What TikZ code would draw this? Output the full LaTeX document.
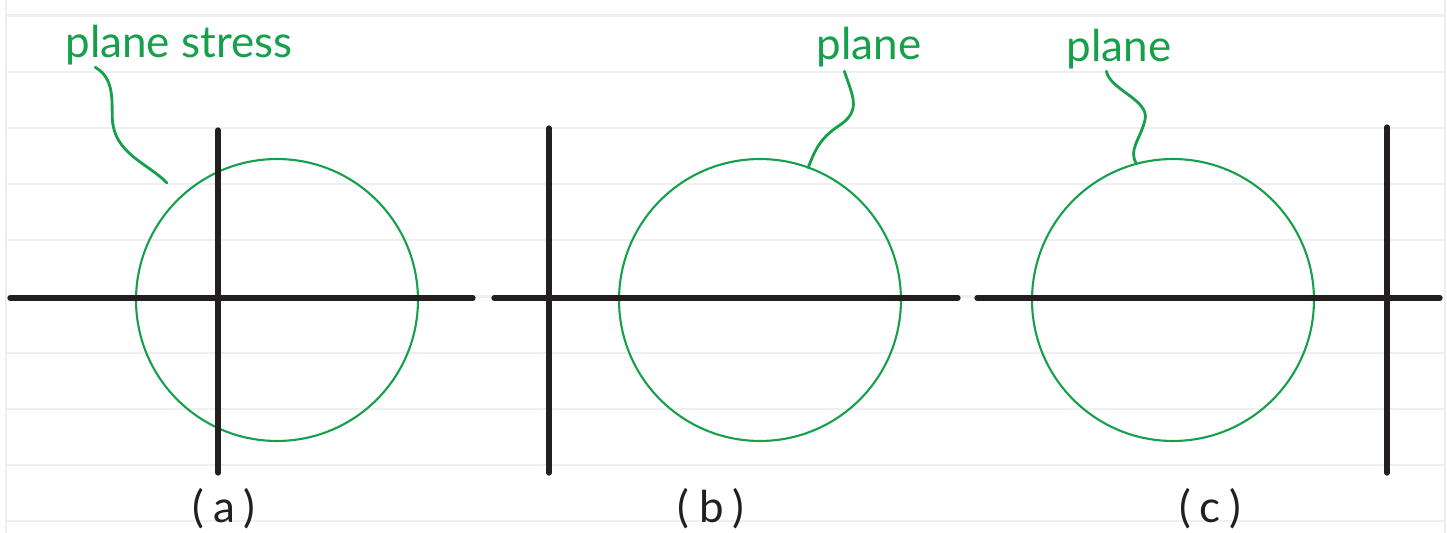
\documentclass[tikz,border=0pt]{standalone}
\usepackage{fontspec}
\setmainfont{Lato}
\usepackage{xcolor}
\usepackage{tikz}
\usetikzlibrary{positioning,calc}
\definecolor{Ink}{HTML}{231F20}
\definecolor{Pen}{HTML}{16A04B}
\definecolor{Rule}{HTML}{EFEFEF}
\begin{document}
\begin{tikzpicture}[x=0.02cm,y=-0.02cm,
  every node/.style={font=\fontsize{25}{28}\selectfont,inner sep=0pt},
  axis/.style={Ink,line width=3pt,line cap=round},
  mohr/.style={circle,draw=Pen,line width=1.2pt,minimum size=5.64cm,outer sep=0pt},
  lead/.style={Pen,line width=1.6pt,line cap=round},
  note/.style={text=Pen},
  tag/.style={text=Ink,font=\fontsize{25}{28}\selectfont\addfontfeature{LetterSpace=22}}
]
% ruled paper
\fill[white] (0,0) rectangle (1447,533);
\useasboundingbox (0,0) rectangle (1447,533);
\foreach \k in {0,...,9}
  \draw[Rule,line width=1.2pt] (6,{15.5+56.2*\k}) -- (1445,{15.5+56.2*\k});
\draw[Rule,line width=1.2pt] (6,0) -- (6,533) (1445,0) -- (1445,533);

% circles
\node[mohr] (ca) at (277,300) {};
\node[mohr] (cb) at (760,300) {};
\node[mohr] (cc) at (1173,300) {};

% axes
\draw[axis] (10,298) -- (473,298);  \draw[axis] (218,130) -- (218,473);
\draw[axis] (494,298) -- (958,298); \draw[axis] (549,128) -- (549,473);
\draw[axis] (977,298) -- (1440,298); \draw[axis] (1387,127) -- (1387,473);

% notes
\node[note] (la) at (179,45) {plane stress};
\node[note] (lb) at (869,47) {plane};
\node[note] (lc) at (1119,49) {plane};
\coordinate (ea) at (167,183);
\draw[lead] ($(la.south west)+(30,2)$) .. controls (118,80) and (110,110) .. (113,125)
  .. controls (118,155) and (150,165) .. (ea);
\draw[lead] ($(lb.south west)+(28,4)$) .. controls (852,95) and (862,110) .. (840,125)
  .. controls (820,138) and (815,150) .. (cb.70);
\draw[lead] ($(lc.south west)+(40,2)$) .. controls (1110,90) and (1150,100) .. (1145,120)
  .. controls (1140,140) and (1128,150) .. (cc.105);

% tags
\node[tag] (ta) at (224,509) {(a)};
\node[tag] (tb) at (711,509) {(b)};
\node[tag] (tc) at (1210,509) {(c)};
\end{tikzpicture}
\end{document}
